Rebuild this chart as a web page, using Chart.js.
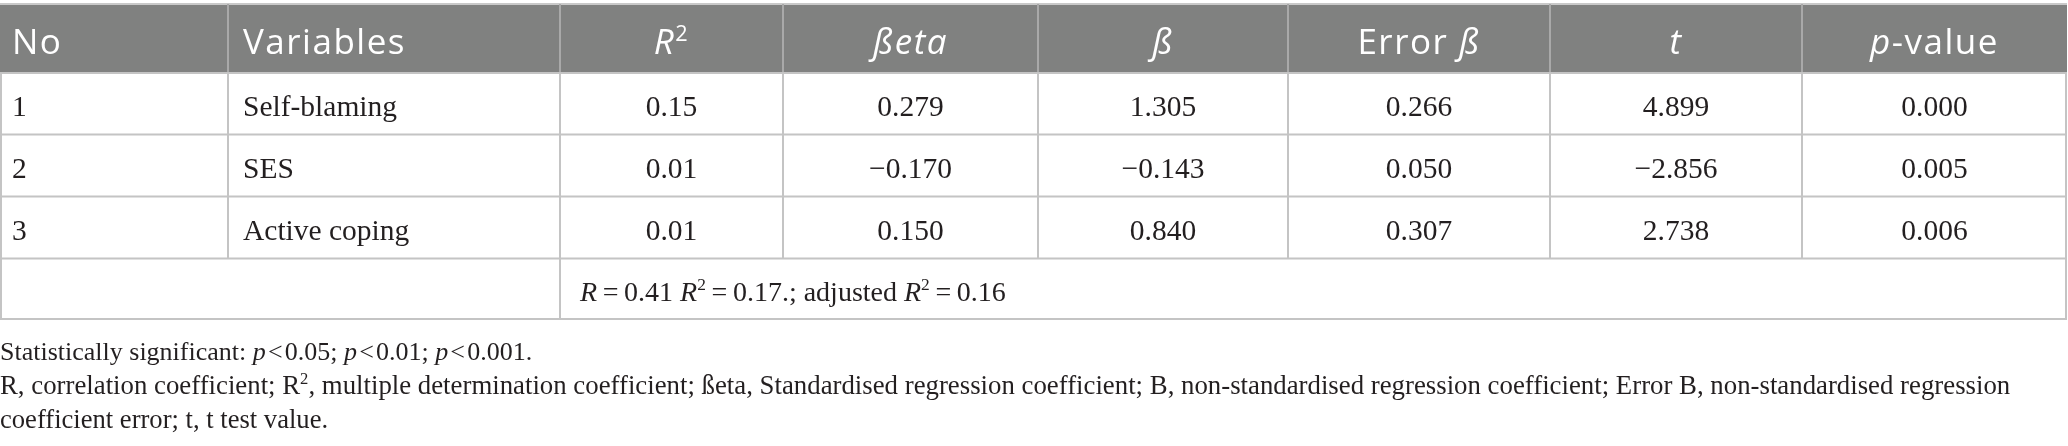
<!DOCTYPE html>
<html>
<head>
<meta charset="utf-8">
<script src="https://cdn.jsdelivr.net/npm/chart.js@4.4.1/dist/chart.umd.min.js"></script>
<style>
  html, body { margin: 0; padding: 0; background: #fff; }
  #wrap { width: 2068px; height: 446px; }
</style>
</head>
<body>
<div id="wrap"><canvas id="regTable" width="2068" height="446"></canvas></div>
<script>
// ---- table values ----
var rowNo     = ['1', '2', '3'];
var variables = ['Self-blaming', 'SES', 'Active coping'];
var r2        = [0.15, 0.01, 0.01];
var betaStd   = [0.279, -0.170, 0.150];
var bUnstd    = [1.305, -0.143, 0.840];
var errorB    = [0.266, 0.050, 0.307];
var tValues   = [4.899, -2.856, 2.738];
var pValues   = [0.000, 0.005, 0.006];
var modelR    = 0.41;
var modelR2   = 0.17;
var adjR2     = 0.16;
var sigLevels = [0.05, 0.01, 0.001];

// header cells as text runs: n = normal, i = italic, s = superscript
var headerRuns = [
  [['No', 'n']],
  [['Variables', 'n']],
  [['R', 'i'], ['2', 's']],
  [['ßeta', 'i']],
  [['ß', 'i']],
  [['Error ', 'n'], ['ß', 'i']],
  [['t', 'i']],
  [['p', 'i'], ['-value', 'n']]
];

// ---- layout (table units == px) ----
var colWidths = [228, 332, 223, 255, 250, 262, 252, 265];
var rowEdges  = [4, 73, 134.5, 196.5, 258.5, 319];
var noteBase  = [360, 394, 428];

var colEdges = [0];
colWidths.forEach(function(w) { colEdges.push(colEdges[colEdges.length - 1] + w); });

var SANS  = '"Open Sans", "Noto Sans", sans-serif';
var SERIF = '"Liberation Serif", "DejaVu Serif", serif';
var INK   = '#231f20';

function fmt(v, d) {
  var s = Math.abs(v).toFixed(d);
  return v < 0 ? '\u2212' + s : s;
}

function runFont(style, size, family) {
  if (style === 's') return (size * 0.62).toFixed(1) + 'px ' + family;
  if (style === 'i') return 'italic ' + size + 'px ' + family;
  return size + 'px ' + family;
}

// draw a list of runs; align 'left' or 'center' around x
function drawRuns(ctx, runs, x, y, align, size, family, spacing) {
  ctx.letterSpacing = (spacing || 0) + 'px';
  var total = 0, widths = [];
  runs.forEach(function(r) {
    ctx.font = runFont(r[1], size, family);
    var w = ctx.measureText(r[0]).width;
    widths.push(w);
    total += w;
  });
  var cx = align === 'center' ? x - total / 2 : x;
  ctx.textAlign = 'left';
  ctx.textBaseline = 'alphabetic';
  runs.forEach(function(r, i) {
    ctx.font = runFont(r[1], size, family);
    var dy = r[1] === 's' ? -size * 0.38 : 0;
    ctx.fillText(r[0], cx, y + dy);
    cx += widths[i];
  });
  ctx.letterSpacing = '0px';
}

var tablePlugin = {
  id: 'regressionTable',
  beforeDraw: function(chart) {
    var ctx = chart.ctx;
    ctx.save();
    ctx.fillStyle = '#ffffff';
    ctx.fillRect(0, 0, chart.width, chart.height);
    ctx.restore();
  },
  afterDraw: function(chart) {
    var ctx = chart.ctx;
    var xs = chart.scales.x, ys = chart.scales.y;
    var X = function(v) { return xs.getPixelForValue(v); };
    var Y = function(v) { return ys.getPixelForValue(v); };
    var left = X(colEdges[0]), right = X(colEdges[colEdges.length - 1]);
    ctx.save();

    // header band
    ctx.fillStyle = '#808180';
    ctx.fillRect(left, Y(rowEdges[0]), right - left, Y(rowEdges[1]) - Y(rowEdges[0]));
    ctx.fillStyle = '#c9c9c9';
    ctx.fillRect(left, Y(rowEdges[0]) - 1, right - left, 2);
    ctx.strokeStyle = '#a9a9a9';
    ctx.lineWidth = 2;
    for (var c = 1; c < colEdges.length - 1; c++) {
      ctx.beginPath();
      ctx.moveTo(X(colEdges[c]), Y(rowEdges[0]));
      ctx.lineTo(X(colEdges[c]), Y(rowEdges[1]));
      ctx.stroke();
    }

    // body grid
    ctx.strokeStyle = '#c4c4c4';
    ctx.lineWidth = 2;
    for (var r = 1; r < rowEdges.length; r++) {
      ctx.beginPath();
      ctx.moveTo(left, Y(rowEdges[r]));
      ctx.lineTo(right, Y(rowEdges[r]));
      ctx.stroke();
    }
    var bodyRows = rowNo.length;
    for (var c2 = 0; c2 < colEdges.length; c2++) {
      var gx = X(colEdges[c2]);
      if (c2 === 0) gx += 1;
      if (c2 === colEdges.length - 1) gx -= 1;
      ctx.beginPath();
      ctx.moveTo(gx, Y(rowEdges[1]));
      ctx.lineTo(gx, Y(rowEdges[1 + bodyRows]));
      ctx.stroke();
    }
    // summary row: merged cells
    [0, 2, colEdges.length - 1].forEach(function(ci) {
      var gx = X(colEdges[ci]);
      if (ci === 0) gx += 1;
      if (ci === colEdges.length - 1) gx -= 1;
      ctx.beginPath();
      ctx.moveTo(gx, Y(rowEdges[1 + bodyRows]));
      ctx.lineTo(gx, Y(rowEdges[2 + bodyRows]));
      ctx.stroke();
    });

    // header text
    ctx.fillStyle = '#ffffff';
    var hBase = Y(rowEdges[0]) + 50;
    headerRuns.forEach(function(runs, i) {
      if (i < 2) drawRuns(ctx, runs, X(colEdges[i]) + (i === 0 ? 12 : 15), hBase, 'left', 35, SANS, 1.5);
      else drawRuns(ctx, runs, (X(colEdges[i]) + X(colEdges[i + 1])) / 2, hBase, 'center', 35, SANS, 1.5);
    });

    // body text
    ctx.fillStyle = INK;
    var cols = [r2, betaStd, bUnstd, errorB, tValues, pValues];
    var decimals = [2, 3, 3, 3, 3, 3];
    for (var k = 0; k < bodyRows; k++) {
      var base = (Y(rowEdges[k + 1]) + Y(rowEdges[k + 2])) / 2 + 12;
      drawRuns(ctx, [[rowNo[k], 'n']], X(colEdges[0]) + 12, base, 'left', 29.5, SERIF);
      drawRuns(ctx, [[variables[k], 'n']], X(colEdges[1]) + 15, base, 'left', 29.5, SERIF);
      cols.forEach(function(arr, j) {
        var cx = (X(colEdges[j + 2]) + X(colEdges[j + 3])) / 2;
        drawRuns(ctx, [[fmt(arr[k], decimals[j]), 'n']], cx, base, 'center', 29.5, SERIF);
      });
    }

    // summary row text
    var eq = '\u2009=\u2009';
    var sBase = (Y(rowEdges[1 + bodyRows]) + Y(rowEdges[2 + bodyRows])) / 2 + 12;
    drawRuns(ctx, [
      ['R', 'i'], [eq + modelR.toFixed(2) + ' ', 'n'],
      ['R', 'i'], ['2', 's'], [eq + modelR2.toFixed(2) + '.; adjusted ', 'n'],
      ['R', 'i'], ['2', 's'], [eq + adjR2.toFixed(2), 'n']
    ], X(colEdges[2]) + 20, sBase, 'left', 28, SERIF);

    // footnotes
    var lt = '\u200a<\u200a';
    drawRuns(ctx, [
      ['Statistically significant: ', 'n'],
      ['p', 'i'], [lt + sigLevels[0] + '; ', 'n'],
      ['p', 'i'], [lt + sigLevels[1] + '; ', 'n'],
      ['p', 'i'], [lt + sigLevels[2] + '.', 'n']
    ], X(0), Y(noteBase[0]), 'left', 26, SERIF);
    drawRuns(ctx, [
      ['R, correlation coefficient; R', 'n'], ['2', 's'],
      [', multiple determination coefficient; ßeta, Standardised regression coefficient; B, non-standardised regression coefficient; Error B, non-standardised regression', 'n']
    ], X(0), Y(noteBase[1]), 'left', 26.8, SERIF);
    drawRuns(ctx, [['coefficient error; t, t test value.', 'n']], X(0), Y(noteBase[2]), 'left', 26.6, SERIF);

    ctx.restore();
  }
};

new Chart(document.getElementById('regTable'), {
  type: 'scatter',
  data: { datasets: [] },
  options: {
    responsive: false,
    animation: false,
    devicePixelRatio: 1,
    layout: { padding: 0 },
    plugins: { legend: { display: false }, tooltip: { enabled: false } },
    scales: {
      x: { type: 'linear', min: 0, max: 2068, display: false },
      y: { type: 'linear', min: 0, max: 446, reverse: true, display: false }
    }
  },
  plugins: [tablePlugin]
});
</script>
</body>
</html>
